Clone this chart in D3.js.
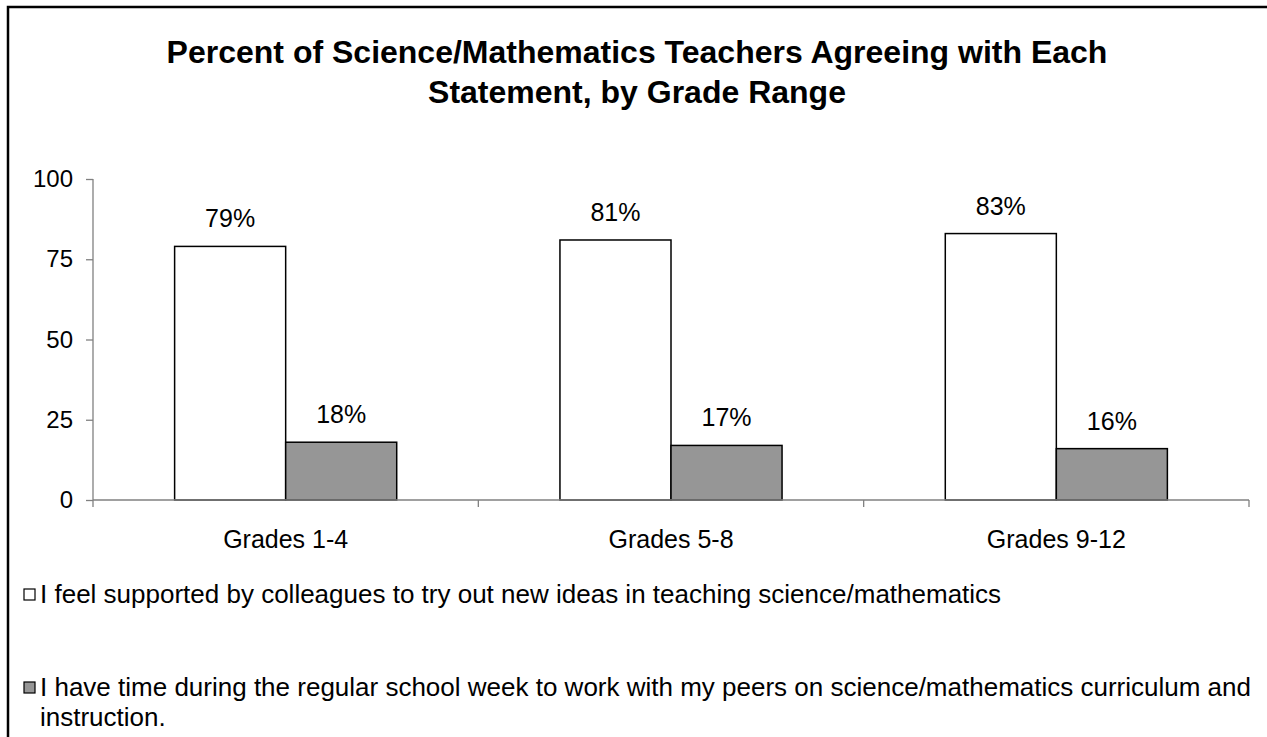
<!DOCTYPE html>
<html>
<head>
<meta charset="utf-8">
<script src="https://cdn.jsdelivr.net/npm/d3@7"></script>
<style>
  body { margin: 0; background: #fff; }
  text { font-family: "Liberation Sans", Arial, sans-serif; fill: #000; }
</style>
</head>
<body>
<div id="chart"></div>
<script>
// chart data
var categories = ["Grades 1-4", "Grades 5-8", "Grades 9-12"];
var seriesNames = [
    "I feel supported by colleagues to try out new ideas in teaching science/mathematics",
    "I have time during the regular school week to work with my peers on science/mathematics curriculum and instruction."
];
var supported = [79, 81, 83];
var peerTime = [18, 17, 16];
var yTicks = [0, 25, 50, 75, 100];
var titleLines = ["Percent of Science/Mathematics Teachers Agreeing with Each", "Statement, by Grade Range"];
var fills = ["#ffffff", "#969696"];

var width = 1267, height = 737;
var plot = {left: 93, right: 1249, top: 179, bottom: 500};

var svg = d3.select("#chart").append("svg")
    .attr("width", width)
    .attr("height", height);

// outer frame, runs off the right and bottom edge
svg.append("rect")
    .attr("x", 8).attr("y", 7)
    .attr("width", 1400).attr("height", 900)
    .attr("fill", "none")
    .attr("stroke", "#000")
    .attr("stroke-width", 2.5);

// title
svg.append("g").selectAll("text")
    .data(titleLines)
    .enter().append("text")
    .attr("x", 637)
    .attr("y", function(d, i) { return 63 + i * 40; })
    .attr("text-anchor", "middle")
    .style("font-size", "32px")
    .style("font-weight", "bold")
    .text(function(d) { return d; });

// scales
var x0 = d3.scaleBand()
    .domain(categories)
    .range([plot.left, plot.right]);

var x1 = d3.scaleBand()
    .domain([0, 1])
    .range([0, x0.bandwidth()])
    .paddingOuter(0.735);

var y = d3.scaleLinear()
    .domain([0, 100])
    .range([plot.bottom, plot.top]);

// y axis
var yAxis = svg.append("g")
    .attr("transform", "translate(" + plot.left + ",0)")
    .call(d3.axisLeft(y).tickValues(yTicks).tickSize(7).tickPadding(13));
yAxis.selectAll("path, line").attr("stroke", "#808080").attr("stroke-width", 1.3);
yAxis.select(".domain").attr("d", "M0," + y(100) + "V" + y(0));
yAxis.selectAll("text").style("font-size", "24px").attr("fill", "#000");

// bars
var rows = categories.map(function(c, i) { return {cat: c, values: [supported[i], peerTime[i]]}; });

var groups = svg.append("g").selectAll("g")
    .data(rows)
    .enter().append("g")
    .attr("transform", function(d) { return "translate(" + x0(d.cat) + ",0)"; });

groups.selectAll("rect")
    .data(function(d) { return d.values; })
    .enter().append("rect")
    .attr("x", function(d, i) { return x1(i); })
    .attr("y", function(d) { return y(d); })
    .attr("width", x1.bandwidth())
    .attr("height", function(d) { return y(0) - y(d); })
    .attr("fill", function(d, i) { return fills[i]; })
    .attr("stroke", "#000")
    .attr("stroke-width", 1.5);

groups.selectAll("text")
    .data(function(d) { return d.values; })
    .enter().append("text")
    .attr("x", function(d, i) { return x1(i) + x1.bandwidth() / 2; })
    .attr("y", function(d) { return y(d) - 19; })
    .attr("text-anchor", "middle")
    .style("font-size", "25px")
    .text(function(d) { return d + "%"; });

// x axis with ticks between categories
var boundaries = categories.map(function(c) { return x0(c); }).concat([plot.right]);
var xAxis = svg.append("g");
xAxis.append("line")
    .attr("x1", plot.left).attr("x2", plot.right)
    .attr("y1", y(0)).attr("y2", y(0))
    .attr("stroke", "#808080").attr("stroke-width", 1.3);
xAxis.selectAll("line.tick")
    .data(boundaries)
    .enter().append("line")
    .attr("class", "tick")
    .attr("x1", function(d) { return d; }).attr("x2", function(d) { return d; })
    .attr("y1", y(0)).attr("y2", y(0) + 7)
    .attr("stroke", "#808080").attr("stroke-width", 1.3);
xAxis.selectAll("text")
    .data(categories)
    .enter().append("text")
    .attr("x", function(d) { return x0(d) + x0.bandwidth() / 2; })
    .attr("y", 548)
    .attr("text-anchor", "middle")
    .style("font-size", "25px")
    .text(function(d) { return d; });

// legend
var legend = svg.append("g");
var legendY = [603, 696];
legend.selectAll("rect")
    .data(seriesNames)
    .enter().append("rect")
    .attr("x", 24)
    .attr("y", function(d, i) { return legendY[i] - 14; })
    .attr("width", 11).attr("height", 11)
    .attr("fill", function(d, i) { return fills[i]; })
    .attr("stroke", "#000")
    .attr("stroke-width", 1.2);

var legendText = legend.selectAll("text")
    .data(seriesNames)
    .enter().append("text")
    .attr("x", 40)
    .attr("y", function(d, i) { return legendY[i]; })
    .style("font-size", "26px");

legendText.each(function(d, i) {
    var t = d3.select(this);
    if (i === 1) {
        var cut = d.lastIndexOf(" ");
        t.append("tspan").attr("x", 40).text(d.slice(0, cut));
        t.append("tspan").attr("x", 40).attr("dy", 29.5).text(d.slice(cut + 1));
    } else {
        t.text(d);
    }
});
</script>
</body>
</html>
